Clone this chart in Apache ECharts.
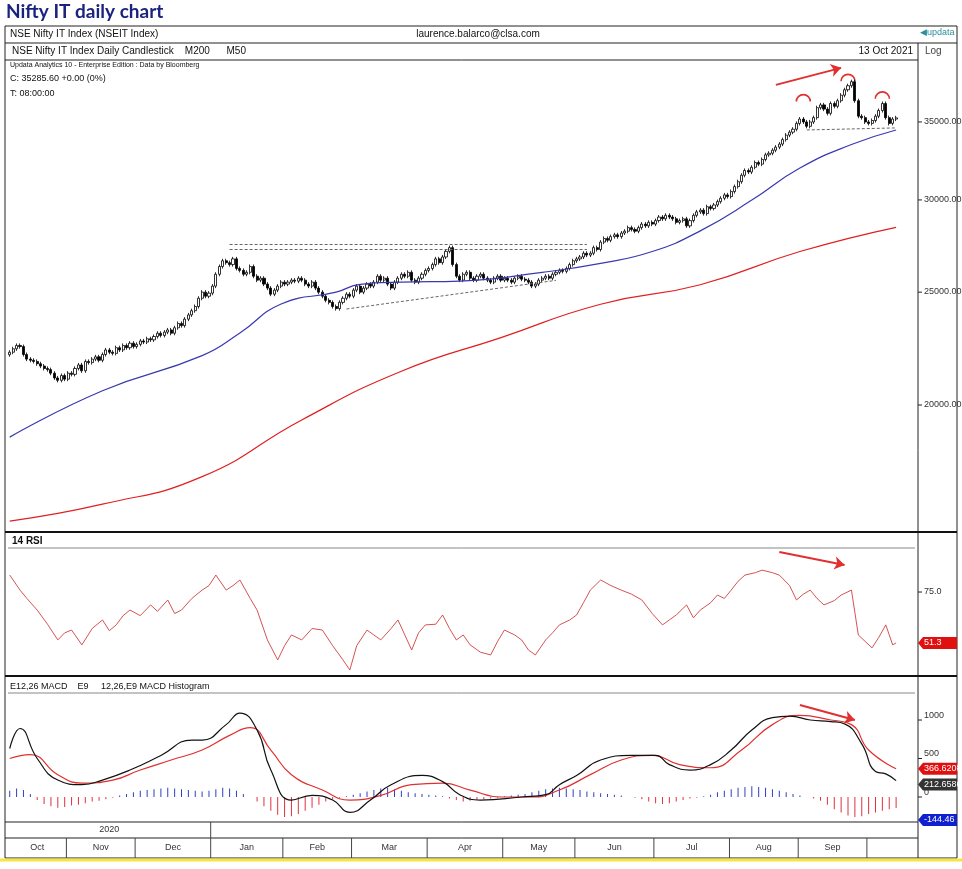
<!DOCTYPE html>
<html><head><meta charset="utf-8">
<script src="https://cdn.jsdelivr.net/npm/echarts@6/dist/echarts.min.js"></script>
<style>html,body{margin:0;padding:0;background:#fff}#c{width:962px;height:869px}</style>
</head><body><div id="c"></div>
<script>
// ---- data ----
const monthNames = ['Oct','Nov','Dec','Jan','Feb','Mar','Apr','May','Jun','Jul','Aug','Sep'];
const monthStart = [0,17,37,59,80,100,122,144,165,188,210,230,250];
const totalSlots = 264;
const closes = [
22200,22350,22500,22450,22100,21900,21850,21800,21700,21600,21500,21450,21300,21100,21000,21200,21050,
21300,21250,21500,21650,21400,21800,21750,21900,22000,21850,22100,22300,22200,22150,22400,22300,22500,22400,22600,22450,
22550,22700,22650,22800,22750,22900,23050,22950,23100,23200,23050,23300,23500,23400,23700,23900,24100,24300,24700,25000,24800,24950,
25300,25900,26300,26600,26500,26400,26700,26200,26100,25900,26000,26300,25800,25600,25700,25400,25200,24900,25100,25300,25500,
25400,25500,25600,25550,25700,25600,25400,25300,25500,25200,25000,24800,24600,24500,24300,24200,24500,24700,24900,24800,
25100,25300,25000,25200,25400,25300,25500,25800,25600,25700,25400,25200,25500,25700,25900,25800,26000,25600,25500,25700,25900,26100,
26200,26400,26700,26500,26800,27100,27300,26400,25800,25600,25900,26000,25700,25600,25800,25900,25700,25600,25500,25700,25800,25600,
25700,25600,25500,25700,25800,25650,25600,25500,25300,25400,25600,25700,25800,25700,25900,26000,26100,26050,26200,26400,26600,
26700,26800,27000,26900,27000,27300,27200,27600,27800,27700,27900,28000,27900,28100,28200,28400,28300,28200,28400,28600,28500,28700,28600,
28800,29000,28900,29100,29000,28900,28700,28800,28900,28500,28800,29100,29300,29400,29200,29600,29500,29700,29900,30100,30300,30200,
30500,30800,31100,31500,31800,31700,32000,32300,32200,32500,32800,32900,33100,33300,33500,33800,34100,34300,34500,34900,
35200,35000,34700,35000,35300,36000,36200,35900,35600,36300,36100,36500,36900,37300,37600,37900,36500,35400,35300,35000,
34900,35100,35400,35800,36300,35300,34900,35200,35285];
const ma50 = [[0,18770],[27,20570],[56,22050],[67,23060],[79,24420],[95,25000],[102,25390],[114,25500],[131,25550],[155,26000],[172,26460],[187,27090],[201,28220],[216,29990],[230,31950],[245,33470],[258,34450]];
const ma200 = [[0,15900],[27,16440],[56,17360],[85,19420],[114,21380],[143,22850],[172,24410],[201,25370],[230,27090],[258,28420]];
const priceTicks = [20000,25000,30000,35000];
const rsi = [[0,82.9],[3,75.9],[5,72],[8,66.6],[11,60],[14,52.7],[16,56],[18,57.3],[21,50.4],[24,58],[27,62.0],[29,57],[31,59.7],[33,64],[35,66.6],[38,64],[41,69.0],[43,66],[46,71.3],[48,65],[50,66.6],[53,72],[56,75.9],[58,78],[60,82.9],[63,75.9],[65,78],[67,80.6],[70,72],[72,66.6],[75,52.7],[78,43.4],[80,50],[82,55.0],[85,52.7],[88,58],[91,57.3],[94,50],[97,43.4],[99,38.7],[101,50],[104,57.3],[106,55],[108,52.7],[111,58],[113,62.0],[115,55],[117,48.0],[119,56],[121,59.7],[124,60],[126,64.3],[128,58],[130,52.7],[132,55],[134,50.4],[137,47],[140,45.7],[142,52],[144,57.3],[147,55],[149,52.7],[151,48],[153,45.7],[156,52.7],[158,56],[160,59.7],[163,62],[165,64.3],[167,70],[169,75.9],[172,80.6],[175,78],[178,75.9],[181,74],[184,71.3],[187,65],[190,59.7],[192,62],[194,64.3],[197,69.0],[199,63],[201,66.6],[204,70],[206,73.6],[208,72],[210,75.9],[212,80],[214,82.9],[217,84],[219,85.2],[222,84],[224,82.9],[227,78],[229,71.3],[231,74],[233,75.9],[235,72],[237,69.0],[240,71],[242,73.6],[245,75.9],[247,55.0],[249,52],[251,49.0],[253,54],[255,59.7],[257,50.4],[258,51.3]];
const rsiTicks = [75.0];
const macd = [[0,630],[3,890],[8,500],[14,220],[21,160],[27,220],[35,350],[44,540],[53,740],[56,740],[63,940],[67,1090],[72,870],[76,350],[82,-40],[88,20],[94,-40],[99,-200],[105,-40],[111,160],[120,280],[126,200],[131,30],[137,-40],[149,0],[156,30],[160,160],[165,280],[172,480],[181,540],[188,540],[192,420],[198,350],[204,420],[210,610],[216,870],[222,1030],[227,1050],[233,1000],[239,980],[243,950],[248,690],[252,330],[255,300],[258,212.65]];
const signal = [[0,500],[6,550],[14,290],[21,180],[30,220],[38,350],[47,480],[56,610],[64,800],[70,900],[76,610],[82,290],[91,90],[99,-40],[108,20],[117,160],[126,180],[134,90],[143,0],[152,0],[160,90],[169,290],[178,480],[187,540],[195,420],[204,380],[213,610],[222,940],[230,1060],[239,1000],[245,940],[250,610],[258,366.62]];
const hist = [80,110,90,40,
-40,-90,-120,-140,-130,-110,-100,-80,-60,-50,-30,-10,
20,
40,60,80,90,100,110,120,110,100,90,80,70,80,100,120,110,80,40,
0,
-60,-120,-180,-230,-260,-250,-220,-180,-140,-100,-60,-30,
-10,10,30,
50,70,90,110,120,100,80,60,50,40,30,20,10,
-20,-40,-60,-50,-40,-30,-20,-10,
10,20,30,40,60,
80,100,110,120,110,100,90,70,60,50,40,30,20,
0,-10,
-30,-60,-80,-90,-80,-60,-40,-20,-10,
10,30,
60,80,100,120,130,140,130,120,100,80,60,40,20,
0,-20,-50,
-100,-160,-200,-240,-260,-250,-220,-200,-180,-160,-144.46];
const macdTicks = [0,500,1000];
const lastVals = {rsi:51.3, signal:366.62, macd:212.65, hist:-144.46};

// ---- build ----
const cats = Array.from({length: totalSlots}, (_, i) => String(i));
const candles = closes.map((c, i) => {
  const o = i === 0 ? c * 0.995 : closes[i - 1];
  return [o, c, Math.min(o, c) * 0.996, Math.max(o, c) * 1.004];
});
const histData = hist.map((v, i) => [i * 2, v]);
const F = "'Liberation Sans Narrow','Liberation Sans',Arial,sans-serif";
const L = 8, R = 47;
const chart = echarts.init(document.getElementById('c'));
const xAx = i => ({type:'category', gridIndex:i, data:cats, boundaryGap:true, axisLine:{show:false}, axisTick:{show:false}, axisLabel:{show:false}, splitLine:{show:false}});
const yBase = {position:'right', axisLine:{show:false}, axisTick:{show:false}, axisLabel:{show:false}, splitLine:{show:false}};
const red = '#e03030';
chart.setOption({
  animation:false,
  grid:[
    {left:L, right:R, top:60, height:472},
    {left:L, right:R, top:548, height:128},
    {left:L, right:R, top:693, height:129}
  ],
  xAxis:[xAx(0), xAx(1), xAx(2)],
  yAxis:[
    Object.assign({type:'log', gridIndex:0, min:15560, max:39560}, yBase),
    Object.assign({type:'value', gridIndex:1, min:35.9, max:95.5}, yBase),
    Object.assign({type:'value', gridIndex:2, min:-325, max:1351}, yBase)
  ],
  series:[
    {type:'candlestick', xAxisIndex:0, yAxisIndex:0, data:candles, barWidth:2.6,
     itemStyle:{color:'#fff', color0:'#000', borderColor:'#000', borderColor0:'#000', borderWidth:0.8},
     markLine:{silent:true, symbol:'none', label:{show:false},
       lineStyle:{color:'#666', type:[3,2], width:1},
       data:[
         [{coord:['64',27500]},{coord:['168',27500]}],
         [{coord:['64',27230]},{coord:['168',27230]}],
         [{coord:['98',24180]},{coord:['159',25590]}],
         [{coord:['232',34450]},{coord:['258',34590]}],
         [{coord:['223',37660], lineStyle:{color:red,type:'solid',width:2}, symbol:'none'},{coord:['242',38950], symbol:'arrow', symbolSize:10}]
       ]}},
    {type:'line', xAxisIndex:0, yAxisIndex:0, data:ma50, showSymbol:false, smooth:true, lineStyle:{color:'#3a3ab0', width:1.2}},
    {type:'line', xAxisIndex:0, yAxisIndex:0, data:ma200, showSymbol:false, smooth:true, lineStyle:{color:'#e02020', width:1.2}},
    {type:'line', xAxisIndex:1, yAxisIndex:1, data:rsi, showSymbol:false, lineStyle:{color:'#d04040', width:0.9},
     markLine:{silent:true, label:{show:false}, symbol:['none','arrow'], symbolSize:10, lineStyle:{color:red,type:'solid',width:2},
       data:[[{coord:['224',93.6]},{coord:['243',87.6]}]]}},
    {type:'bar', xAxisIndex:2, yAxisIndex:2, data:histData, barWidth:1,
     itemStyle:{color:p => p.value[1] >= 0 ? '#3040c0' : '#e03040'}},
    {type:'line', xAxisIndex:2, yAxisIndex:2, data:signal, showSymbol:false, smooth:true, lineStyle:{color:'#e03030', width:1.2}},
    {type:'line', xAxisIndex:2, yAxisIndex:2, data:macd, showSymbol:false, smooth:true, lineStyle:{color:'#111', width:1.2},
     markLine:{silent:true, label:{show:false}, symbol:['none','arrow'], symbolSize:10, lineStyle:{color:red,type:'solid',width:2},
       data:[[{coord:['230',1195]},{coord:['246',1000]}]]}}
  ]
});

// ---- overlay graphics (positions via library scales) ----
const g = [];
const txt = (x, y, s, opt) => g.push(Object.assign({type:'text', x, y, style:Object.assign({text:s, font:'10px ' + F, fill:'#111'}, opt || {})}));
const line = (x1, y1, x2, y2, stroke, lw) => g.push({type:'line', shape:{x1, y1, x2, y2}, style:{stroke, lineWidth:lw || 1}});
txt(6, 2, 'Nifty IT daily chart', {font:'bold 19px Lato, sans-serif', fill:'#1a237e'});
g.push({type:'rect', shape:{x:5, y:26, width:952, height:832}, style:{fill:'none', stroke:'#222', lineWidth:1}});
line(5, 43, 957, 43, '#222'); line(5, 60, 918, 60, '#222');
line(918, 43, 918, 858, '#222');
line(5, 532, 957, 532, '#111', 2); line(5, 676, 957, 676, '#111', 2);
line(8, 548, 915, 548, '#888'); line(8, 693, 915, 693, '#888');
line(5, 822, 918, 822, '#222'); line(5, 838, 918, 838, '#222');
txt(10, 29, 'NSE Nifty IT Index (NSEIT Index)', {font:'10px ' + F});
txt(478, 29, 'laurence.balarco@clsa.com', {font:'10px ' + F, align:'center'});
txt(920, 28, '\u25C0updata', {font:'9px ' + F, fill:'#2a8f9d'});
txt(12, 46, 'NSE Nifty IT Index Daily Candlestick    M200      M50', {font:'10px ' + F});
txt(913, 46, '13 Oct 2021', {font:'10px ' + F, align:'right'});
txt(925, 46, 'Log', {font:'10px ' + F, fill:'#444'});
txt(10, 62, 'Updata Analytics 10 - Enterprise Edition : Data by Bloomberg', {font:'7px ' + F});
txt(10, 74, 'C: 35285.60 +0.00 (0%)', {font:'9px ' + F});
txt(10, 89, 'T: 08:00:00', {font:'9px ' + F});
txt(12, 536, '14 RSI', {font:'bold 10px ' + F});
txt(10, 682, 'E12,26 MACD    E9     12,26,E9 MACD Histogram', {font:'9px ' + F});

priceTicks.forEach(v => {
  const y = chart.convertToPixel({yAxisIndex:0}, v);
  line(918, y, 922, y, '#222');
  txt(924, y - 5, v.toFixed(2), {font:'9px ' + F, fill:'#333'});
});
rsiTicks.forEach(v => {
  const y = chart.convertToPixel({yAxisIndex:1}, v);
  line(918, y, 922, y, '#222');
  txt(924, y - 5, v.toFixed(1), {font:'9px ' + F, fill:'#333'});
});
macdTicks.forEach(v => {
  const y = chart.convertToPixel({yAxisIndex:2}, v);
  line(918, y, 922, y, '#222');
  txt(924, y - 9, String(v), {font:'9px ' + F, fill:'#333'});
});
const tag = (y, s, fill) => {
  g.push({type:'polygon', shape:{points:[[918, y], [923, y - 6], [957, y - 6], [957, y + 6], [923, y + 6]]}, style:{fill}});
  txt(924, y - 5, s, {font:'9px ' + F, fill:'#fff'});
};
tag(chart.convertToPixel({yAxisIndex:1}, lastVals.rsi), String(lastVals.rsi), '#e01010');
tag(chart.convertToPixel({yAxisIndex:2}, lastVals.signal), '366.6208', '#e01010');
tag(chart.convertToPixel({yAxisIndex:2}, lastVals.macd) + 4, '212.6586', '#333');
tag(chart.convertToPixel({yAxisIndex:2}, lastVals.hist) + 12, String(lastVals.hist), '#1020d0');

[[231, 36800], [244, 38300], [254, 37000]].forEach(([i, p]) => {
  const [x, y] = chart.convertToPixel({xAxisIndex:0, yAxisIndex:0}, [String(i), p]);
  g.push({type:'arc', shape:{cx:x, cy:y + 5, r:7, startAngle:Math.PI, endAngle:2 * Math.PI}, style:{stroke:red, lineWidth:1.6, fill:'none'}});
});

const px = i => chart.convertToPixel({xAxisIndex:0}, String(i));
const step = px(1) - px(0);
monthStart.forEach((s, k) => {
  const x = px(s) - step / 2;
  if (k > 0) line(x, 838, x, 858, '#444');
  if (k < monthNames.length) {
    const e = monthStart[k + 1];
    txt((px(s) + px(e)) / 2 - step / 2, 843, monthNames[k], {font:'9px ' + F, align:'center', fill:'#333'});
  }
});
const jan = px(monthStart[3]) - step / 2;
line(jan, 822, jan, 838, '#444');
txt((8 + jan) / 2, 825, '2020', {font:'9px ' + F, align:'center', fill:'#333'});
line(0, 860, 962, 860, '#f5e642', 3);
chart.setOption({graphic:g});
</script></body></html>
